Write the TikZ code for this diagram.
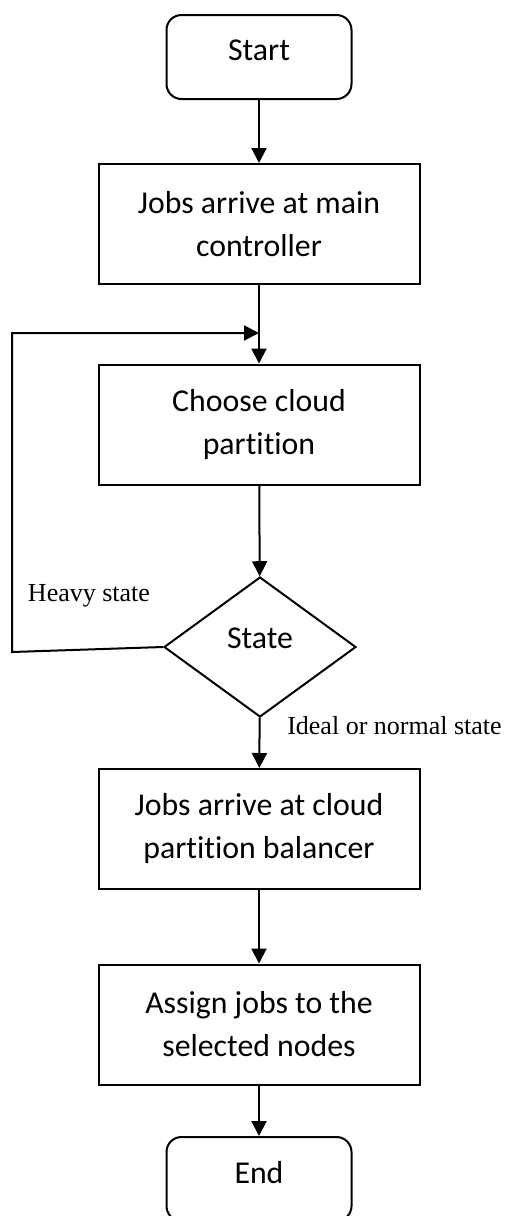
\documentclass[tikz,border=0pt]{standalone}
\usepackage{fontspec}
\setmainfont{Carlito}[Ligatures=NoCommon]
\newfontfamily\timesfont{Liberation Serif}
\usetikzlibrary{shapes.geometric,arrows.meta,positioning}

\begin{document}
\begin{tikzpicture}[x=1pt, y=-1pt, line width=2pt, >={Triangle[length=15pt,width=15pt]}]
    \tikzstyle{process}=[draw,shape=rectangle,minimum width=321pt,minimum height=120pt,align=center,inner sep=0pt,font=\fontsize{31.8}{43}\selectfont]
    \tikzstyle{terminal}=[draw,shape=rectangle,rounded corners=15pt,minimum width=185pt,minimum height=84pt,text depth=14pt,inner sep=0pt,font=\fontsize{31.8}{43}\selectfont]
    \tikzstyle{decision}=[draw,shape=diamond,minimum width=192pt,minimum height=140pt,text depth=18pt,inner sep=0pt,font=\fontsize{31.8}{43}\selectfont]
    \tikzstyle{remark}=[inner sep=0pt,font=\timesfont\fontsize{26}{30}\selectfont]

    \useasboundingbox (0,0) rectangle (510,1216);

    % draw steps

    \node [terminal] (start) at (259,57) {Start};
    \node [process] (jobs) at (259,224) {Jobs arrive at main\\controller};
    \node [process] (choose) at (259,424.5) {Choose cloud\\partition};
    \node [decision] (state) at (260,647) {State};
    \node [process] (balancer) at (259,829) {Jobs arrive at cloud\\partition balancer};
    \node [process] (assign) at (259,1024.5) {Assign jobs to the\\selected nodes};
    \node [terminal] (end) at (259,1179) {End};

    % draw text

    \node [remark] (heavy) at (89,596) {Heavy state};
    \node [remark] (ideal) at (394.5,726) {Ideal or normal state};

    % draw lines

    \foreach \a/\b in {start/jobs, jobs/choose, choose/state, state/balancer, balancer/assign, assign/end}
    \draw [->] (\a) -- (\b);

    \coordinate (corner) at (12,652);
    \coordinate (merge) at (259,333);
    \draw [->] (state.west) -- (corner) |- (merge);

\end{tikzpicture}
\end{document}
